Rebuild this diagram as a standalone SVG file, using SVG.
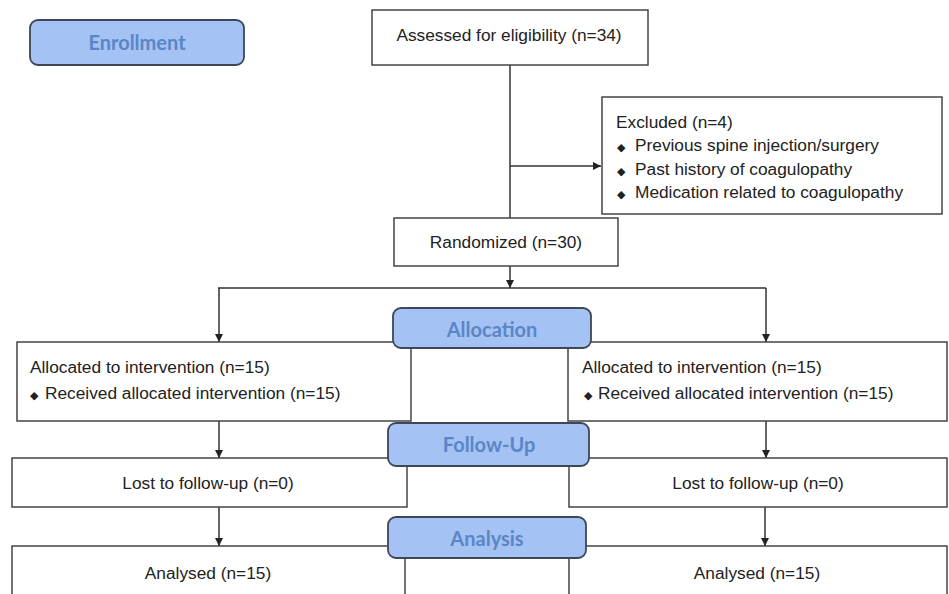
<svg xmlns="http://www.w3.org/2000/svg" width="949" height="594" viewBox="0 0 949 594">
<style>
.box{fill:#fff;stroke:#444;stroke-width:1.5}
.hdr{fill:#a4c2f4;stroke:#3d4756;stroke-width:1.8}
.ht{font-family:Lato,"Open Sans",sans-serif;font-weight:bold;font-size:20px;fill:#5a86c6;text-anchor:middle}
.t{font-family:"Liberation Sans",Arial,sans-serif;font-size:17.3px;fill:#222}
.b{font-size:11px}
.c{text-anchor:middle}
.ln{fill:none;stroke:#333;stroke-width:1.5}
</style>
<defs>
<marker id="ah" viewBox="0 0 10 10" refX="10" refY="5" markerWidth="8" markerHeight="8" markerUnits="userSpaceOnUse" orient="auto">
<path d="M0,0 L10,5 L0,10 z" fill="#222"/>
</marker>
</defs>
<rect width="949" height="594" fill="#fff"/>
<g id="connectors">
<path class="ln" d="M510,65 V218"/>
<path class="ln" d="M510,166 H601" marker-end="url(#ah)"/>
<path class="ln" d="M510,266 V288" marker-end="url(#ah)"/>
<path class="ln" d="M218,288 H766"/>
<path class="ln" d="M219,288 V342" marker-end="url(#ah)"/>
<path class="ln" d="M766,288 V342" marker-end="url(#ah)"/>
<path class="ln" d="M219,421 V458" marker-end="url(#ah)"/>
<path class="ln" d="M766,421 V458" marker-end="url(#ah)"/>
<path class="ln" d="M219,507 V546" marker-end="url(#ah)"/>
<path class="ln" d="M765,507 V546" marker-end="url(#ah)"/>
</g>
<g id="assessed">
<rect class="box" x="372" y="10" width="276" height="55"/>
<text class="t c" x="509" y="41">Assessed for eligibility (n=34)</text>
</g>
<g id="excluded">
<rect class="box" x="602" y="97" width="340" height="117"/>
<text class="t" x="616" y="128">Excluded (n=4)</text>
<text class="t" x="617" y="151"><tspan class="b">◆</tspan><tspan x="635">Previous spine injection/surgery</tspan></text>
<text class="t" x="617" y="175"><tspan class="b">◆</tspan><tspan x="635">Past history of coagulopathy</tspan></text>
<text class="t" x="617" y="198"><tspan class="b">◆</tspan><tspan x="635">Medication related to coagulopathy</tspan></text>
</g>
<g id="randomized">
<rect class="box" x="394" y="218" width="224" height="48"/>
<text class="t c" x="506" y="248">Randomized (n=30)</text>
</g>
<g id="alloc-left">
<rect class="box" x="17" y="342" width="394" height="79"/>
<text class="t" x="30" y="373">Allocated to intervention (n=15)</text>
<text class="t" x="30" y="399"><tspan class="b">◆</tspan><tspan x="45">Received allocated intervention (n=15)</tspan></text>
</g>
<g id="alloc-right">
<rect class="box" x="568" y="342" width="379" height="79"/>
<text class="t" x="582" y="373">Allocated to intervention (n=15)</text>
<text class="t" x="584" y="399"><tspan class="b">◆</tspan><tspan x="598">Received allocated intervention (n=15)</tspan></text>
</g>
<g id="lost-left">
<rect class="box" x="12" y="458" width="395" height="49"/>
<text class="t c" x="208" y="489">Lost to follow-up (n=0)</text>
</g>
<g id="lost-right">
<rect class="box" x="569" y="458" width="378" height="49"/>
<text class="t c" x="758" y="489">Lost to follow-up (n=0)</text>
</g>
<g id="analysed-left">
<rect class="box" x="12" y="546" width="393" height="60"/>
<text class="t c" x="208" y="579">Analysed (n=15)</text>
</g>
<g id="analysed-right">
<rect class="box" x="569" y="546" width="378" height="60"/>
<text class="t c" x="757" y="579">Analysed (n=15)</text>
</g>
<g id="enrollment">
<rect class="hdr" x="30" y="20" width="214" height="45" rx="8"/>
<text class="ht" x="137" y="50">Enrollment</text>
</g>
<g id="allocation">
<rect class="hdr" x="393" y="308" width="198" height="40" rx="8"/>
<text class="ht" x="492" y="337">Allocation</text>
</g>
<g id="followup">
<rect class="hdr" x="388" y="423" width="201" height="43" rx="8"/>
<text class="ht" x="489" y="452">Follow-Up</text>
</g>
<g id="analysis">
<rect class="hdr" x="388" y="517" width="198" height="41" rx="8"/>
<text class="ht" x="487" y="546">Analysis</text>
</g>
</svg>
